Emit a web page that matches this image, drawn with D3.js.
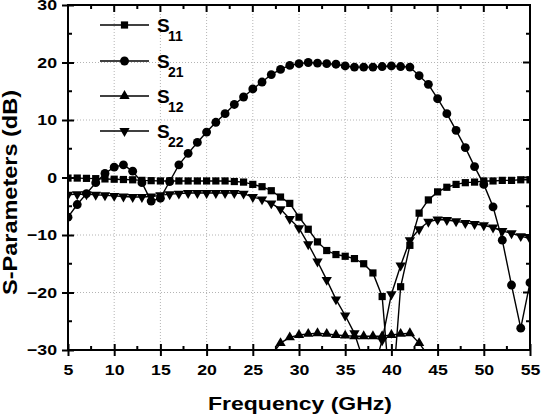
<!DOCTYPE html>
<html>
<head>
<meta charset="utf-8">
<script src="https://cdn.jsdelivr.net/npm/d3@7"></script>
<style>
  body { margin: 0; background: #fff; }
  text { font-family: "Liberation Sans", Arial, sans-serif; font-weight: bold; fill: #000; }
</style>
</head>
<body>
<div id="chart"></div>
<script>
// values (dB)
var freq = [5,6,7,8,9,10,11,12,13,14,15,16,17,18,19,20,21,22,23,24,25,26,27,28,29,30,
            31,32,33,34,35,36,37,38,39,40,41,42,43,44,45,46,47,48,49,50,51,52,53,54,55];

var s11 = [-0.1,-0.1,-0.15,-0.2,-0.25,-0.3,-0.35,-0.4,-0.5,-0.55,-0.6,-0.6,-0.6,-0.6,-0.6,-0.6,-0.6,-0.6,-0.7,-0.8,
           -1.2,-1.6,-2.3,-3.4,-4.5,-6.9,-9.0,-11.2,-12.7,-13.4,-13.7,-14.1,-15.0,-16.6,-20.7,-40,-19.0,-11.8,-6.2,-3.9,
           -2.5,-1.7,-1.2,-0.9,-0.8,-0.6,-0.6,-0.5,-0.5,-0.4,-0.4];

var s21 = [-6.9,-4.7,-2.8,-0.9,0.7,1.8,2.2,1.1,-0.9,-4.1,-3.6,-0.7,2.2,4.2,6.1,7.9,9.6,11.1,12.7,14.0,
           15.4,16.6,17.9,18.8,19.5,19.8,20.0,19.9,19.8,19.7,19.4,19.2,19.2,19.2,19.3,19.4,19.3,19.2,17.7,16.2,
           13.7,11.1,8.2,5.2,1.9,-1.2,-5.1,-10.9,-18.7,-26.2,-18.3];

var s22 = [-3.0,-2.9,-2.9,-3.0,-3.1,-3.2,-3.3,-3.4,-3.4,-3.3,-3.1,-2.9,-2.8,-2.7,-2.7,-2.7,-2.7,-2.7,-2.7,-2.8,
           -3.4,-3.8,-4.5,-5.5,-7.2,-8.8,-11.6,-14.6,-17.8,-21.2,-24.0,-27.1,-32,-34,-28.3,-20.3,-15.3,-10.9,-9.0,-7.7,
           -7.3,-7.4,-7.6,-7.9,-8.1,-8.3,-8.7,-9.3,-9.7,-10.2,-10.6];

// S12 only shows above -30 dB between about 27 and 44 GHz
var freq12 = [27,28,29,30,31,32,33,34,35,36,37,38,39,40,41,42,43,44];
var s12 = [-31,-28.8,-27.8,-27.4,-27.2,-27.1,-27.2,-27.4,-27.5,-27.6,-27.6,-27.6,-27.6,-27.4,-27.2,-27.1,-28.8,-31];

var xMajor = [5,10,15,20,25,30,35,40,45,50,55];
var xMinor = [7.5,12.5,17.5,22.5,27.5,32.5,37.5,42.5,47.5,52.5];
var yMajor = [-30,-20,-10,0,10,20,30];
var yMinor = [-25,-15,-5,5,15,25];

var legendNames = ["11","21","12","22"];

(function () {

  var W = 541, H = 417;
  var pL = 68, pR = 530, pT = 5, pB = 350;

  var svg = d3.select("#chart").append("svg")
    .attr("width", W).attr("height", H);

  var x = d3.scaleLinear().domain([5,55]).range([pL, pR]);
  var y = d3.scaleLinear().domain([-30,30]).range([pB, pT]);

  // grid
  svg.append("g").selectAll("line").data(xMajor.slice(1,-1)).enter().append("line")
    .attr("x1", d => x(d)).attr("x2", d => x(d)).attr("y1", pT).attr("y2", pB)
    .attr("stroke", "#b4b4b4").attr("stroke-width", 1).attr("stroke-dasharray", "1,2");
  svg.append("g").selectAll("line").data(yMajor.slice(1,-1)).enter().append("line")
    .attr("y1", d => y(d)).attr("y2", d => y(d)).attr("x1", pL).attr("x2", pR)
    .attr("stroke", "#b4b4b4").attr("stroke-width", 1).attr("stroke-dasharray", "1,2");

  // axes
  var gx = svg.append("g").attr("transform", "translate(0," + pB + ")")
    .call(d3.axisBottom(x).tickValues(xMajor).tickSize(6).tickPadding(8.5));
  gx.selectAll(".tick line").attr("y1", -6).attr("y2", 6).attr("stroke-width", 2);
  gx.selectAll("text").style("font-size", "15px");

  var gy = svg.append("g").attr("transform", "translate(" + pL + ",0)")
    .call(d3.axisLeft(y).tickValues(yMajor).tickSize(6).tickPadding(5));
  gy.selectAll(".tick line").attr("x1", -6).attr("x2", 6).attr("stroke-width", 2);
  gy.selectAll("text").style("font-size", "15px");

  [gx, gy].forEach(function (g) {
    g.select(".domain").remove();
    g.selectAll("text").attr("fill", "#000").each(function () {
      var w = this.getComputedTextLength();
      d3.select(this).attr("textLength", w * 1.18).attr("lengthAdjust", "spacingAndGlyphs");
    });
  });

  var ticks = svg.append("g").attr("stroke", "#000").attr("stroke-width", 2);
  // minor ticks, inward
  xMinor.forEach(function (d) {
    ticks.append("line").attr("x1", x(d)).attr("x2", x(d)).attr("y1", pB).attr("y2", pB - 4);
    ticks.append("line").attr("x1", x(d)).attr("x2", x(d)).attr("y1", pT).attr("y2", pT + 4);
  });
  yMinor.forEach(function (d) {
    ticks.append("line").attr("y1", y(d)).attr("y2", y(d)).attr("x1", pL).attr("x2", pL + 4);
    ticks.append("line").attr("y1", y(d)).attr("y2", y(d)).attr("x1", pR).attr("x2", pR - 4);
  });
  // mirrored major ticks on top/right
  xMajor.forEach(function (d) {
    ticks.append("line").attr("x1", x(d)).attr("x2", x(d)).attr("y1", pT).attr("y2", pT + 7);
  });
  yMajor.forEach(function (d) {
    ticks.append("line").attr("y1", y(d)).attr("y2", y(d)).attr("x1", pR).attr("x2", pR - 7);
  });

  // axis titles
  svg.append("text").attr("x", 300).attr("y", 410).attr("text-anchor", "middle")
    .style("font-size", "19px").attr("textLength", 184).attr("lengthAdjust", "spacingAndGlyphs")
    .text("Frequency (GHz)");
  svg.append("text").attr("transform", "translate(16.5,192.5) rotate(-90)").attr("text-anchor", "middle")
    .style("font-size", "19.5px").attr("textLength", 205).attr("lengthAdjust", "spacingAndGlyphs")
    .text("S-Parameters (dB)");

  // series
  svg.append("clipPath").attr("id", "plotclip").append("rect")
    .attr("x", pL).attr("y", pT).attr("width", pR - pL).attr("height", pB - pT);
  var plot = svg.append("g").attr("clip-path", "url(#plotclip)");

  var sq = d3.symbol().type(d3.symbolSquare).size(52);
  var ci = d3.symbol().type(d3.symbolCircle).size(62);
  var tri = d3.symbol().type(d3.symbolTriangle).size(46);

  var series = [
    {xs: freq, ys: s11, sym: sq, rot: 0},
    {xs: freq, ys: s21, sym: ci, rot: 0},
    {xs: freq12, ys: s12, sym: tri, rot: 0},
    {xs: freq, ys: s22, sym: tri, rot: 180}
  ];

  var line = d3.line().x(d => x(d[0])).y(d => y(d[1]));

  series.forEach(function (s) {
    var pts = s.xs.map(function (f, i) { return [f, s.ys[i]]; });
    plot.append("path").datum(pts).attr("d", line)
      .attr("fill", "none").attr("stroke", "#000").attr("stroke-width", 1.4);
    plot.selectAll(null).data(pts).enter().append("path")
      .attr("d", s.sym)
      .attr("transform", d => "translate(" + x(d[0]) + "," + y(d[1]) + ") rotate(" + s.rot + ")")
      .attr("fill", "#000");
  });

  // frame
  svg.append("rect").attr("x", pL).attr("y", pT)
    .attr("width", pR - pL).attr("height", pB - pT)
    .attr("fill", "none").attr("stroke", "#000").attr("stroke-width", 2);

  // legend
  var legY = [25, 61, 96, 131];
  series.forEach(function (s, i) {
    var g = svg.append("g").attr("transform", "translate(0," + legY[i] + ")");
    g.append("line").attr("x1", 100).attr("x2", 149).attr("stroke", "#000").attr("stroke-width", 1.4);
    g.append("path").attr("d", s.sym).attr("transform", "translate(124.5,0) rotate(" + s.rot + ")").attr("fill", "#000");
    var t = g.append("text").attr("x", 157).attr("y", 7).style("font-size", "19px");
    t.append("tspan").text("S");
    t.append("tspan").attr("x", 168).attr("y", 16).style("font-size", "14px").text(legendNames[i]);
  });

})();
</script>
</body>
</html>
